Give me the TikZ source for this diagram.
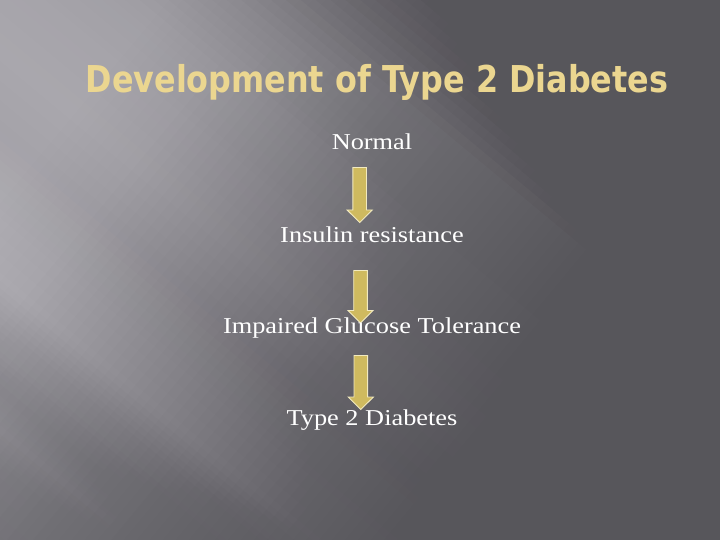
\documentclass[tikz,border=0pt]{standalone}
\usepackage{fontspec}
\setmainfont{Liberation Serif}
\newfontfamily\bodyfont[FakeStretch=1.16]{Liberation Serif}
\newfontfamily\titlefont[FakeStretch=0.86]{DejaVu Sans}
\definecolor{k0}{RGB}{106,104,110}
\definecolor{k1}{RGB}{100,98,104}
\definecolor{k2}{RGB}{119,117,123}
\definecolor{k3}{RGB}{145,143,149}
\definecolor{k4}{RGB}{161,159,165}
\definecolor{k5}{RGB}{166,164,170}
\definecolor{k6}{RGB}{169,167,173}
\definecolor{k7}{RGB}{165,163,169}
\definecolor{k8}{RGB}{173,171,177}
\definecolor{k9}{RGB}{177,175,181}
\definecolor{k10}{RGB}{161,159,165}
\definecolor{k11}{RGB}{147,145,151}
\definecolor{k12}{RGB}{157,155,161}
\definecolor{k13}{RGB}{143,141,147}
\definecolor{k14}{RGB}{139,137,143}
\definecolor{k15}{RGB}{139,137,143}
\definecolor{shadow}{RGB}{87,86,91}
\definecolor{titlecol}{HTML}{EBD690}
\definecolor{arrowfill}{HTML}{CFBA5F}
\definecolor{arrowedge}{HTML}{F2EAC0}
\newcommand\blockarrow[3]{%
  \draw[arr] (#1-6.8,#2) -- (#1+6.8,#2) -- (#1+6.8,#3-12.5) -- (#1+12.6,#3-12.5)
    -- (#1,#3) -- (#1-12.6,#3-12.5) -- (#1-6.8,#3-12.5) -- cycle;}
\begin{document}
\begin{tikzpicture}[x=1pt,y=-1pt,
  lbl/.style={text=white,font=\bodyfont\fontsize{22.7}{26}\selectfont,inner sep=0pt,anchor=base},
  arr/.style={fill=arrowfill,draw=arrowedge,line width=0.9pt,line join=miter}]
\useasboundingbox (0,0) rectangle (720,540);
\begin{scope}
\clip (0,0) rectangle (720,540);
\begin{scope}[x={(-0.64pt,-0.77pt)},y={(0.77pt,-0.64pt)}]
\foreach \ua/\ca/\ub/\cb in {-520/k0/-307/k1,-307/k1/-230/k2,-230/k2/-154/k3,-154/k3/-80/k4,
   -80/k4/-22/k5,-22/k5/40/k6,40/k6/100/k7,100/k7/160/k8,160/k8/216/k9,216/k9/260/k10,
   260/k10/300/k11,300/k11/330/k12,330/k12/360/k13,360/k13/420/k14,420/k14/520/k15}{
  \foreach \k in {0,...,7}{
    \pgfmathsetmacro\uu{\ua+(\ub-\ua)*\k/8}
    \pgfmathtruncatemacro\pp{100*(\k+0.5)/8}
    \colorlet{tmpc}{\cb!\pp!\ca}
    \fill[tmpc] (\uu,-30) -- (530,-30) -- (530,940) -- (\uu,940) -- cycle;
  }
}
\foreach \i in {0,...,59}{
  \pgfmathsetmacro\ta{\i/60}
  \pgfmathsetmacro\tb{(\i+1)/60}
  \pgfmathsetmacro\Oa{0.97*\ta*\ta*(3-2*\ta)}
  \pgfmathsetmacro\Ob{0.97*\tb*\tb*(3-2*\tb)}
  \pgfmathsetmacro\dd{1-(1-\Ob)/(1-\Oa)}
  \pgfmathsetmacro\ss{120+10*\i}
  \fill[shadow,opacity=\dd] (-530,\ss) -- (530,\ss) -- (530,940) -- (-530,940) -- cycle;
}
\end{scope}
\end{scope}
\node[text=titlecol,font=\titlefont\bfseries\fontsize{37}{42}\selectfont,inner sep=0pt,anchor=base] (title) at (377,92.5) {Development of Type 2 Diabetes};
\coordinate (a1) at (359.7,167.5);
\coordinate (a2) at (360.5,270.5);
\coordinate (a3) at (360.8,355.5);
\blockarrow{359.7}{167.5}{222.5}
\blockarrow{360.5}{270.5}{323}
\blockarrow{360.8}{355.5}{409.5}
\node[lbl] (n1) at (372,150) {Normal};
\node[lbl] (n2) at (372,242) {Insulin resistance};
\node[lbl] (n3) at (372,333) {Impaired Glucose Tolerance};
\node[lbl] (n4) at (372,425) {Type 2 Diabetes};
\end{tikzpicture}
\end{document}
